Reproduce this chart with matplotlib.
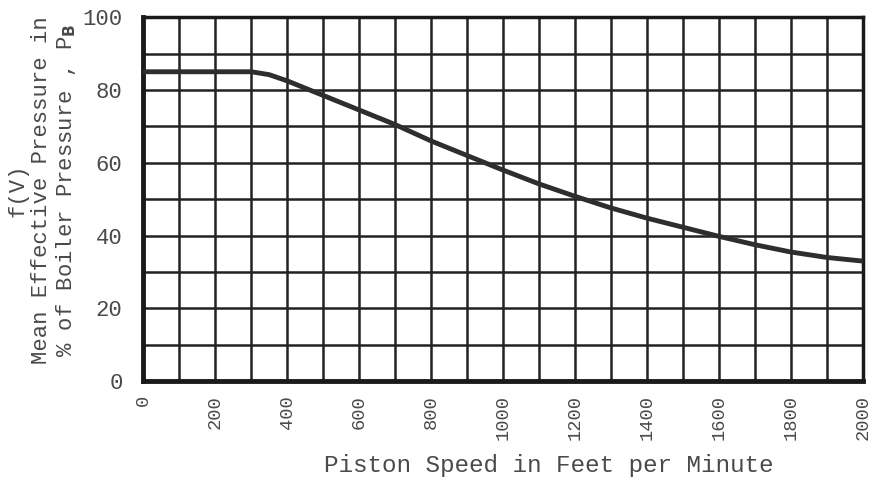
import matplotlib
matplotlib.use('Agg')
import matplotlib.pyplot as plt
import numpy as np

# values
speed = [0, 100, 200, 300, 350, 400, 500, 600, 700, 800, 900, 1000,
         1100, 1200, 1300, 1400, 1500, 1600, 1700, 1800, 1900, 2000]
mep = [85, 85, 85, 85, 84.2, 82.5, 78.5, 74.5, 70.5, 66, 62, 58,
       54.2, 50.8, 47.6, 44.8, 42.3, 39.8, 37.5, 35.5, 34, 33]

x_ticks = list(range(0, 2001, 200))
y_ticks = list(range(0, 101, 20))

plt.rcParams['font.family'] = ['Liberation Mono', 'DejaVu Sans']

fig = plt.figure(figsize=(8.74, 4.90), dpi=100)
ax = fig.add_axes([0.164, 0.222, 0.823, 0.743])

ax.plot(speed, mep, color='#2e2e2e', lw=3.5, solid_capstyle='round', zorder=3)

ax.set_xlim(0, 2000)
ax.set_ylim(0, 100)
ax.set_xticks(x_ticks)
ax.set_yticks(y_ticks)
ax.set_xticks(range(0, 2001, 100), minor=True)
ax.set_yticks(range(0, 101, 10), minor=True)
ax.grid(True, which='both', color='#222222', lw=1.8)
ax.tick_params(which='both', length=0, colors='#4a4a4a')
ax.tick_params(axis='x', labelrotation=90, pad=10, labelsize=13.5)
ax.tick_params(axis='y', pad=15, labelsize=16)

for s in ax.spines.values():
    s.set_linewidth(2.5)
    s.set_color('#1a1a1a')
ax.spines['left'].set_linewidth(3.5)
ax.spines['bottom'].set_linewidth(3.5)

ax.set_xlabel('Piston Speed in Feet per Minute', fontsize=17.5, color='#4a4a4a')
ax.xaxis.set_label_coords(0.564, -0.2)
ax.set_ylabel('f(V)\nMean Effective Pressure in\n% of Boiler Pressure , P$_\\mathbf{B}$',
              fontsize=16, color='#4a4a4a', linespacing=1.12)
ax.yaxis.set_label_coords(-0.091, 0.525)

fig.savefig('out.png', dpi=100, facecolor='white')
